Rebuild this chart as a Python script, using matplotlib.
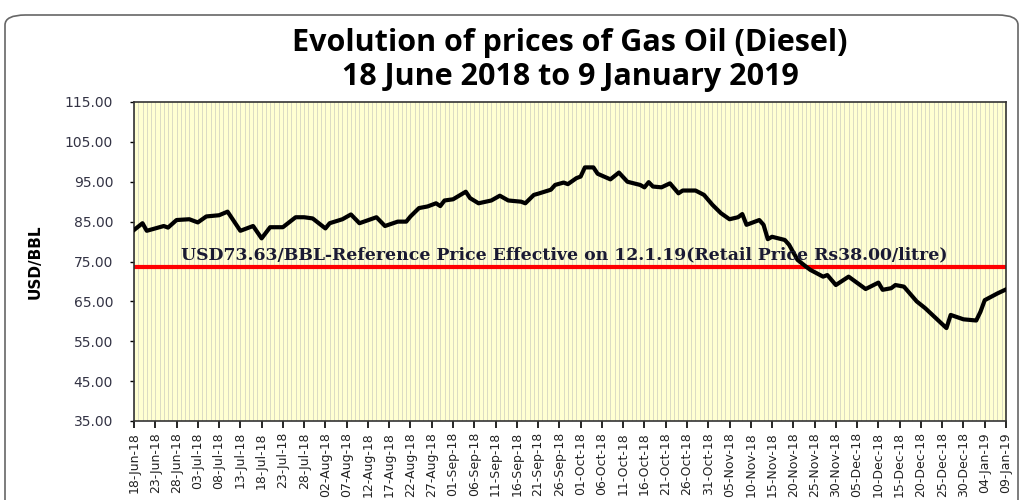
import pandas as pd
import matplotlib.pyplot as plt
from matplotlib.patches import FancyBboxPatch

# Gas oil price readings (USD/BBL)
dates = [
    "2018-06-18", "2018-06-20", "2018-06-21", "2018-06-23", "2018-06-25", "2018-06-26",
    "2018-06-28", "2018-07-01", "2018-07-03", "2018-07-05", "2018-07-08", "2018-07-10",
    "2018-07-13", "2018-07-16", "2018-07-18", "2018-07-20", "2018-07-23", "2018-07-26",
    "2018-07-28", "2018-07-30", "2018-08-02", "2018-08-03", "2018-08-06", "2018-08-08",
    "2018-08-10", "2018-08-14", "2018-08-16", "2018-08-19", "2018-08-21", "2018-08-22",
    "2018-08-24", "2018-08-26", "2018-08-28", "2018-08-29", "2018-08-30", "2018-09-01",
    "2018-09-04", "2018-09-05", "2018-09-07", "2018-09-10", "2018-09-12", "2018-09-14",
    "2018-09-17", "2018-09-18", "2018-09-20", "2018-09-21", "2018-09-24", "2018-09-25",
    "2018-09-27", "2018-09-28", "2018-09-30", "2018-10-01", "2018-10-02", "2018-10-04",
    "2018-10-05", "2018-10-08", "2018-10-10", "2018-10-12", "2018-10-15", "2018-10-16",
    "2018-10-17", "2018-10-18", "2018-10-20", "2018-10-22", "2018-10-24", "2018-10-25",
    "2018-10-28", "2018-10-30", "2018-11-01", "2018-11-03", "2018-11-05", "2018-11-07",
    "2018-11-08", "2018-11-09", "2018-11-12", "2018-11-13", "2018-11-14", "2018-11-15",
    "2018-11-18", "2018-11-19", "2018-11-21", "2018-11-23", "2018-11-24", "2018-11-27",
    "2018-11-28", "2018-11-30", "2018-12-03", "2018-12-07", "2018-12-10", "2018-12-11",
    "2018-12-13", "2018-12-14", "2018-12-16", "2018-12-19", "2018-12-21", "2018-12-26",
    "2018-12-27", "2018-12-30", "2019-01-02", "2019-01-03", "2019-01-04", "2019-01-07",
    "2019-01-08", "2019-01-09",
]
prices = [
    82.9, 84.6, 82.7, 83.3, 83.9, 83.5,
    85.4, 85.6, 84.8, 86.3, 86.6, 87.5,
    82.7, 83.9, 80.8, 83.6, 83.6, 86.1,
    86.1, 85.8, 83.3, 84.6, 85.6, 86.8,
    84.6, 86.1, 83.9, 85.0, 85.0, 86.3,
    88.4, 88.8, 89.6, 88.9, 90.3, 90.6,
    92.5, 90.9, 89.6, 90.3, 91.5, 90.3,
    90.0, 89.6, 91.7, 92.0, 93.0, 94.2,
    94.8, 94.4, 95.9, 96.3, 98.6, 98.6,
    97.0, 95.6, 97.3, 95.0, 94.2, 93.6,
    94.9, 93.8, 93.6, 94.6, 92.1, 92.8,
    92.8, 91.7, 89.2, 87.1, 85.6, 86.1,
    86.9, 84.2, 85.4, 84.2, 80.6, 81.2,
    80.4, 79.2, 75.4, 73.7, 72.9, 71.2,
    71.6, 69.1, 71.2, 68.1, 69.7, 67.9,
    68.3, 69.1, 68.7, 65.0, 63.3, 58.3,
    61.6, 60.5, 60.2, 62.4, 65.3, 67.0,
    67.5, 68.0,
]

ref_price = 73.63
ref_label = "USD73.63/BBL-Reference Price Effective on 12.1.19(Retail Price Rs38.00/litre)"
title = "Evolution of prices of Gas Oil (Diesel)\n18 June 2018 to 9 January 2019"
y_ticks = [35, 45, 55, 65, 75, 85, 95, 105, 115]

start = pd.Timestamp("2018-06-18")
end = pd.Timestamp("2019-01-09")
x_ticks = pd.date_range(start, end, freq="5D")
day_lines = pd.date_range(start, end, freq="D")

fig = plt.figure(figsize=(10.24, 5), dpi=100)

# rounded chart border (bottom runs off the picture)
fig.patches.append(FancyBboxPatch((5 / 1024, -0.2), 1013 / 1024, 1.17,
                                  boxstyle="round,pad=0,rounding_size=0.02",
                                  transform=fig.transFigure, facecolor="white",
                                  edgecolor="#666666", linewidth=1.2, zorder=-5))

ax = fig.add_axes([134 / 1024, 1 - 421 / 500, (1006 - 134) / 1024, (421 - 102) / 500])
ax.set_facecolor("#FFFFD2")

for d in day_lines:
    ax.axvline(d, color="#DADAC4", linewidth=0.7, zorder=0)

ax.plot(pd.to_datetime(dates), prices, color="black", linewidth=3, zorder=3,
        solid_joinstyle="round")
ax.axhline(ref_price, color="#FF0000", linewidth=3, zorder=2)
ax.text(pd.Timestamp("2018-06-29"), ref_price + 0.8, ref_label,
        family="DejaVu Serif", fontweight="bold", fontsize=12.4,
        color="#1A1A33", va="bottom", ha="left", zorder=4)

ax.set_xlim(start, end)
ax.set_ylim(35, 115)
ax.set_yticks(y_ticks)
ax.set_yticklabels([f"{v:.2f}" for v in y_ticks], fontsize=10, color="#333344")
ax.set_xticks(x_ticks)
ax.set_xticklabels([d.strftime("%d-%b-%y") for d in x_ticks], rotation=90,
                   fontsize=9, color="#222222")
ax.tick_params(axis="x", length=5, width=1.2, pad=3)
ax.tick_params(axis="y", length=3, width=1, pad=12)
for sp in ax.spines.values():
    sp.set_color("#333333")
    sp.set_linewidth(1.2)

ax.set_ylabel("USD/BBL", fontsize=11, fontweight="bold", labelpad=16)
fig.text(570 / 1024, 1 - 60 / 500, title, ha="center", va="center",
         family=["Open Sans", "DejaVu Sans"], fontsize=22, fontweight="bold",
         linespacing=1.2)

fig.savefig("out.png", dpi=100)
